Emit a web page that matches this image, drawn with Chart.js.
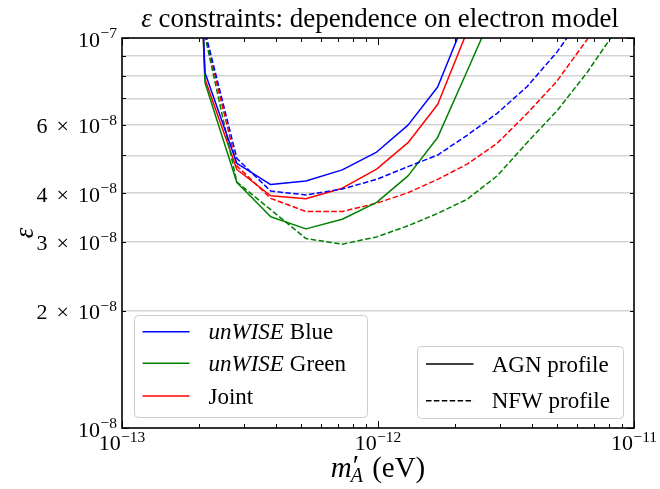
<!DOCTYPE html>
<html><head><meta charset="utf-8">
<script src="https://cdn.jsdelivr.net/npm/chart.js@4/dist/chart.umd.min.js"></script>
<style>html,body{margin:0;padding:0;background:#fff}#wrap{width:660px;height:489px}</style>
</head><body><div id="wrap"><canvas id="c" width="660" height="489"></canvas></div>
<script>
// ---- data ----
const masses = [1.57e-13, 2.11e-13, 2.81e-13, 3.81e-13, 5.23e-13, 7.25e-13, 9.88e-13, 1.31e-12, 1.71e-12, 2.23e-12, 2.92e-12, 3.82e-12, 5.00e-12, 6.55e-12, 8.58e-12];
const blueAGN  = [1e-5, 8.15e-8, 4.77e-8, 4.21e-8, 4.30e-8, 4.59e-8, 5.10e-8, 5.98e-8, 7.49e-8, 1.15e-7, null, null, null, null, null];
const greenAGN = [1e-5, 7.68e-8, 4.26e-8, 3.48e-8, 3.24e-8, 3.43e-8, 3.79e-8, 4.43e-8, 5.56e-8, 8.23e-8, 1.23e-7, null, null, null, null];
const redAGN   = [1e-5, 7.84e-8, 4.60e-8, 3.94e-8, 3.87e-8, 4.12e-8, 4.61e-8, 5.39e-8, 6.75e-8, 1.04e-7, null, null, null, null, null];
const blueNFW  = [2.2e-7, 1.04e-7, 4.91e-8, 4.05e-8, 3.96e-8, 4.10e-8, 4.34e-8, 4.68e-8, 5.01e-8, 5.63e-8, 6.41e-8, 7.50e-8, 9.20e-8, 1.18e-7, null];
const greenNFW = [2.2e-7, 1.01e-7, 4.27e-8, 3.63e-8, 3.06e-8, 2.96e-8, 3.09e-8, 3.30e-8, 3.55e-8, 3.86e-8, 4.43e-8, 5.39e-8, 6.50e-8, 8.15e-8, 1.055e-7];
const redNFW   = [2.2e-7, 1.02e-7, 4.70e-8, 3.88e-8, 3.59e-8, 3.59e-8, 3.77e-8, 4.01e-8, 4.34e-8, 4.75e-8, 5.37e-8, 6.40e-8, 7.75e-8, 9.90e-8, 1.3e-7];

const xMajorTicks = [1e-13, 1e-12, 1e-11];
const xTickExponents = ['\u221213', '\u221212', '\u221211'];
const yLabelTicks = [1e-8, 2e-8, 3e-8, 4e-8, 6e-8, 1e-7];
const yTickMantissas = ['', '2', '3', '4', '6', ''];
const yTickExponents = ['\u22128', '\u22128', '\u22128', '\u22128', '\u22128', '\u22127'];
const yGridValues = [2e-8, 3e-8, 4e-8, 5e-8, 6e-8, 7e-8, 8e-8, 9e-8];
const seriesNames = ['Blue', 'Green', 'Joint'];
const profileNames = ['AGN profile', 'NFW profile'];

const COLORS = {blue: '#0000ff', green: '#008000', red: '#ff0000'};
const FONT = "'Liberation Serif', 'DejaVu Serif', serif";
const DASH = [5.5, 2.4];

function pts(arr) { return masses.map((m, i) => ({x: m, y: arr[i]})); }
function ds(label, arr, color, dashed) {
  return {label, data: pts(arr), borderColor: color, backgroundColor: color, borderWidth: 1.5,
    borderDash: dashed ? DASH : [], pointRadius: 0, tension: 0, fill: false,
    borderJoinStyle: 'round', borderCapStyle: 'butt', spanGaps: false};
}

function fnt(size, italic) { return (italic ? 'italic ' : '') + size + 'px ' + FONT; }
function drawRuns(ctx, runs, x, y, align) {
  let w = 0;
  runs.forEach(r => { ctx.font = fnt(r.size, r.italic); r.w = ctx.measureText(r.text).width; w += r.w + (r.gap || 0); });
  let cx = align === 'right' ? x - w : align === 'center' ? x - w / 2 : x;
  runs.forEach(r => { ctx.font = fnt(r.size, r.italic); ctx.fillText(r.text, cx, y + (r.dy || 0)); cx += r.w + (r.gap || 0); });
}
function roundRect(ctx, x, y, w, h, r) {
  ctx.beginPath();
  ctx.moveTo(x + r, y); ctx.lineTo(x + w - r, y); ctx.quadraticCurveTo(x + w, y, x + w, y + r);
  ctx.lineTo(x + w, y + h - r); ctx.quadraticCurveTo(x + w, y + h, x + w - r, y + h);
  ctx.lineTo(x + r, y + h); ctx.quadraticCurveTo(x, y + h, x, y + h - r);
  ctx.lineTo(x, y + r); ctx.quadraticCurveTo(x, y, x + r, y); ctx.closePath();
}

const decor = {
  id: 'decor',
  afterDraw(chart) {
    const ctx = chart.ctx, a = chart.chartArea, xs = chart.scales.x, ys = chart.scales.y;
    ctx.save();
    ctx.fillStyle = '#000'; ctx.strokeStyle = '#000'; ctx.textAlign = 'left'; ctx.textBaseline = 'alphabetic';
    // inward ticks
    ctx.lineWidth = 1;
    const tick = (x1, y1, x2, y2) => { ctx.beginPath(); ctx.moveTo(x1, y1); ctx.lineTo(x2, y2); ctx.stroke(); };
    const xMinor = [];
    [1e-13, 1e-12].forEach(d => { for (let k = 2; k <= 9; k++) xMinor.push(k * d); });
    xMajorTicks.forEach(v => { const p = Math.round(xs.getPixelForValue(v)) + 0.5; tick(p, a.bottom, p, a.bottom - 7); tick(p, a.top, p, a.top + 7); });
    xMinor.forEach(v => { const p = Math.round(xs.getPixelForValue(v)) + 0.5; tick(p, a.bottom, p, a.bottom - 4); tick(p, a.top, p, a.top + 4); });
    [1e-8, 1e-7].forEach(v => { const p = Math.round(ys.getPixelForValue(v)) + 0.5; tick(a.left, p, a.left + 7, p); tick(a.right, p, a.right - 7, p); });
    yGridValues.forEach(v => { const p = Math.round(ys.getPixelForValue(v)) + 0.5; tick(a.left, p, a.left + 4, p); tick(a.right, p, a.right - 4, p); });
    // frame
    ctx.lineWidth = 1.6;
    ctx.strokeRect(a.left, a.top, a.right - a.left, a.bottom - a.top);
    // x tick labels
    xMajorTicks.forEach((v, i) => {
      drawRuns(ctx, [{text: '10', size: 22, gap: 0.5}, {text: xTickExponents[i], size: 15.5, dy: -8.5}],
        xs.getPixelForValue(v), a.bottom + 22, 'center');
    });
    // y tick labels
    yLabelTicks.forEach((v, i) => {
      const runs = [];
      if (yTickMantissas[i]) { runs.push({text: yTickMantissas[i], size: 22, gap: 9}); runs.push({text: '\u00d7', size: 22, gap: 9}); }
      runs.push({text: '10', size: 22, gap: 0.5});
      runs.push({text: yTickExponents[i], size: 15.5, dy: -8.5});
      drawRuns(ctx, runs, a.left - 5, ys.getPixelForValue(v) + 8.5, 'right');
    });
    // title
    drawRuns(ctx, [{text: '\u03b5', size: 27, italic: true, gap: 0}, {text: ' constraints: dependence on electron model', size: 27}],
      (a.left + a.right) / 2 + 2, 27, 'center');
    // x axis title  m'_A (eV)
    {
      const cx = (a.left + a.right) / 2, by = 477, S = 29, s = 20;
      ctx.font = fnt(S, true); const wm = ctx.measureText('m').width;
      ctx.font = fnt(S, false); const wp = ctx.measureText('\u2032').width;
      ctx.font = fnt(s, true); const wa = ctx.measureText('A').width;
      ctx.font = fnt(S, false); const we = ctx.measureText(' (eV)').width;
      const tot = wm + 1 + Math.max(wp, wa) + we;
      let x0 = cx - tot / 2;
      ctx.font = fnt(S, true); ctx.fillText('m', x0, by);
      ctx.font = fnt(S, false); ctx.fillText('\u2032', x0 + wm + 1, by - 2);
      ctx.font = fnt(s, true); ctx.fillText('A', x0 + wm - 1, by + 5);
      ctx.font = fnt(S, false); ctx.fillText(' (eV)', x0 + wm + 1 + Math.max(wp, wa), by);
    }
    // y axis title
    ctx.save();
    ctx.translate(26, (a.top + a.bottom) / 2);
    ctx.rotate(-Math.PI / 2);
    ctx.textAlign = 'center'; ctx.textBaseline = 'middle';
    ctx.font = fnt(27, true); ctx.fillText('\u03b5', 0, 0);
    ctx.restore();
    // legend 1 (colours)
    ctx.lineWidth = 1;
    roundRect(ctx, 134.5, 315.5, 233, 102, 4);
    ctx.fillStyle = 'rgba(255,255,255,0.8)'; ctx.fill(); ctx.strokeStyle = '#cccccc'; ctx.stroke();
    const l1 = [[COLORS.blue, 331.7], [COLORS.green, 363.3], [COLORS.red, 396]];
    l1.forEach((e, i) => {
      ctx.strokeStyle = e[0]; ctx.lineWidth = 1.5; ctx.setLineDash([]);
      ctx.beginPath(); ctx.moveTo(142.5, e[1]); ctx.lineTo(189.5, e[1]); ctx.stroke();
      ctx.fillStyle = '#000';
      const runs = i < 2 ? [{text: 'unWISE', size: 23, italic: true, gap: 6}, {text: seriesNames[i], size: 23}] : [{text: seriesNames[i], size: 23}];
      drawRuns(ctx, runs, 208.5, e[1] + 7.6, 'left');
    });
    // legend 2 (profiles)
    ctx.lineWidth = 1; ctx.setLineDash([]);
    roundRect(ctx, 417.5, 346.5, 206, 72, 4);
    ctx.fillStyle = 'rgba(255,255,255,0.8)'; ctx.fill(); ctx.strokeStyle = '#cccccc'; ctx.stroke();
    const l2 = [[[], 364], [DASH, 400.7]];
    l2.forEach((e, i) => {
      ctx.strokeStyle = '#000'; ctx.lineWidth = 1.5; ctx.setLineDash(e[0]);
      ctx.beginPath(); ctx.moveTo(426, e[1]); ctx.lineTo(473.5, e[1]); ctx.stroke();
      ctx.setLineDash([]);
      ctx.fillStyle = '#000';
      drawRuns(ctx, [{text: profileNames[i], size: 23}], 491.7, e[1] + 7.6, 'left');
    });
    ctx.restore();
  }
};

new Chart(document.getElementById('c'), {
  type: 'line',
  data: {
    datasets: [
      ds('unWISE Blue (AGN)', blueAGN, COLORS.blue, false),
      ds('unWISE Blue (NFW)', blueNFW, COLORS.blue, true),
      ds('unWISE Green (AGN)', greenAGN, COLORS.green, false),
      ds('unWISE Green (NFW)', greenNFW, COLORS.green, true),
      ds('Joint (AGN)', redAGN, COLORS.red, false),
      ds('Joint (NFW)', redNFW, COLORS.red, true)
    ]
  },
  options: {
    responsive: false, animation: false, devicePixelRatio: 1,
    layout: {padding: {top: 38, right: 26, left: 0, bottom: 0}},
    plugins: {legend: {display: false}, title: {display: false}, tooltip: {enabled: false}},
    scales: {
      x: {type: 'logarithmic', min: 1e-13, max: 1e-11,
        ticks: {display: false}, grid: {display: false, drawTicks: false}, border: {display: false},
        afterFit: s => { s.height = 61; }},
      y: {type: 'logarithmic', min: 1e-8, max: 1e-7,
        ticks: {display: false}, grid: {color: '#d3d3d3', lineWidth: 1.5, drawTicks: false}, border: {display: false},
        afterBuildTicks: s => { s.ticks = yGridValues.map(v => ({value: v})); },
        afterFit: s => { s.width = 122; }}
    }
  },
  plugins: [decor]
});
</script>
</body></html>
